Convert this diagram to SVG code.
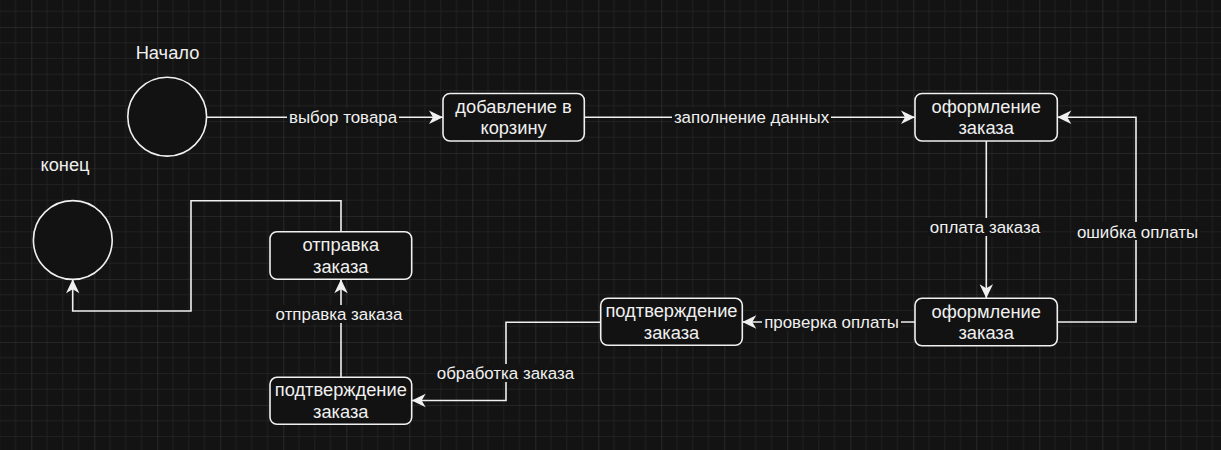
<svg xmlns="http://www.w3.org/2000/svg" width="1221" height="450" viewBox="0 0 1221 450">
  <defs>
    <pattern id="grid" x="31.3" y="27" width="63" height="63" patternUnits="userSpaceOnUse">
      <rect width="63" height="63" fill="#131313"/>
      <path d="M15.75 0V63M31.5 0V63M47.25 0V63M0 15.75H63M0 31.5H63M0 47.25H63" stroke="#202020" stroke-width="1" fill="none"/>
      <path d="M0 0V63M0 0H63" stroke="#363636" stroke-width="1.2" fill="none"/>
    </pattern>
    <marker id="arr" viewBox="-15 -8 16 16" refX="0" refY="0" markerWidth="16" markerHeight="16" markerUnits="userSpaceOnUse" orient="auto">
      <path d="M0,0 L-14,-6.7 L-10,0 L-14,6.7 Z" fill="#f0f0f0"/>
    </marker>
    <style>
      .node { fill: #121212; stroke: #f0f0f0; stroke-width: 1.6; }
      .edge { fill: none; stroke: #f0f0f0; stroke-width: 1.6; }
      .nt { font-family: "Liberation Sans", Arial, sans-serif; font-size: 18.3px; fill: #f0f0f0; text-anchor: middle; }
      .et { font-family: "Liberation Sans", Arial, sans-serif; font-size: 16.9px; fill: #f0f0f0; text-anchor: middle; }
      .lbg { fill: #131313; }
    </style>
  </defs>
  <rect width="1221" height="450" fill="url(#grid)"/>

  <g id="connectors">
    <path class="edge" d="M206.7 117.3H443" marker-end="url(#arr)"/>
    <path class="edge" d="M584.3 117.3H915" marker-end="url(#arr)"/>
    <path class="edge" d="M986.3 141V298.3" marker-end="url(#arr)"/>
    <path class="edge" d="M1057.3 322H1136V117.3H1057.3" marker-end="url(#arr)"/>
    <path class="edge" d="M915 322H742.3" marker-end="url(#arr)"/>
    <path class="edge" d="M600.7 322.3H506V400.5H411.7" marker-end="url(#arr)"/>
    <path class="edge" d="M341 377.3V279.3" marker-end="url(#arr)"/>
    <path class="edge" d="M341 231.7V200.7H191V311H72.7V279.3" marker-end="url(#arr)"/>

    <g id="lbl-vybor">
      <rect class="lbg" x="287" y="108" width="112" height="18"/>
      <text class="et" x="343" y="123">выбор товара</text>
    </g>
    <g id="lbl-zapolnenie">
      <rect class="lbg" x="672" y="108" width="159" height="18"/>
      <text class="et" x="751.5" y="123">заполнение данных</text>
    </g>
    <g id="lbl-oplata">
      <rect class="lbg" x="928" y="218" width="114" height="18"/>
      <text class="et" x="985" y="232.7">оплата заказа</text>
    </g>
    <g id="lbl-oshibka">
      <rect class="lbg" x="1075" y="222" width="125" height="18"/>
      <text class="et" x="1137.5" y="237.5">ошибка оплаты</text>
    </g>
    <g id="lbl-proverka">
      <rect class="lbg" x="762" y="313" width="139" height="18"/>
      <text class="et" x="831.5" y="328">проверка оплаты</text>
    </g>
    <g id="lbl-obrabotka">
      <rect class="lbg" x="435" y="364" width="141" height="18"/>
      <text class="et" x="505.5" y="379">обработка заказа</text>
    </g>
    <g id="lbl-otpravka">
      <rect class="lbg" x="273" y="305" width="132" height="18"/>
      <text class="et" x="339" y="320">отправка заказа</text>
    </g>
  </g>

  <g id="start">
    <circle class="node" cx="167.2" cy="116.7" r="39.4"/>
    <text class="nt" x="167.5" y="59" font-size="19">Начало</text>
  </g>

  <g id="end">
    <circle class="node" cx="72.8" cy="240" r="39.4"/>
    <text class="nt" x="65" y="171" font-size="19">конец</text>
  </g>

  <g id="add-to-cart">
    <rect class="node" x="443" y="93.5" width="141.3" height="47.5" rx="7"/>
    <text class="nt" x="513.6" y="112.8">добавление в</text>
    <text class="nt" x="513.6" y="134.4">корзину</text>
  </g>

  <g id="checkout-1">
    <rect class="node" x="915" y="93.5" width="142.3" height="47.5" rx="7"/>
    <text class="nt" x="986.2" y="112.8">оформление</text>
    <text class="nt" x="986.2" y="134.4">заказа</text>
  </g>

  <g id="checkout-2">
    <rect class="node" x="915" y="298.3" width="142.3" height="47.5" rx="7"/>
    <text class="nt" x="986.2" y="317.6">оформление</text>
    <text class="nt" x="986.2" y="339.2">заказа</text>
  </g>

  <g id="confirm-1">
    <rect class="node" x="600.7" y="298.3" width="141.6" height="47" rx="7"/>
    <text class="nt" x="671.5" y="317.4">подтверждение</text>
    <text class="nt" x="671.5" y="339">заказа</text>
  </g>

  <g id="confirm-2">
    <rect class="node" x="270" y="377.3" width="141.7" height="47" rx="7"/>
    <text class="nt" x="340.8" y="396.4">подтверждение</text>
    <text class="nt" x="340.8" y="418">заказа</text>
  </g>

  <g id="ship">
    <rect class="node" x="270" y="231.7" width="141.7" height="47.6" rx="7"/>
    <text class="nt" x="340.8" y="251">отправка</text>
    <text class="nt" x="340.8" y="272.6">заказа</text>
  </g>
</svg>
